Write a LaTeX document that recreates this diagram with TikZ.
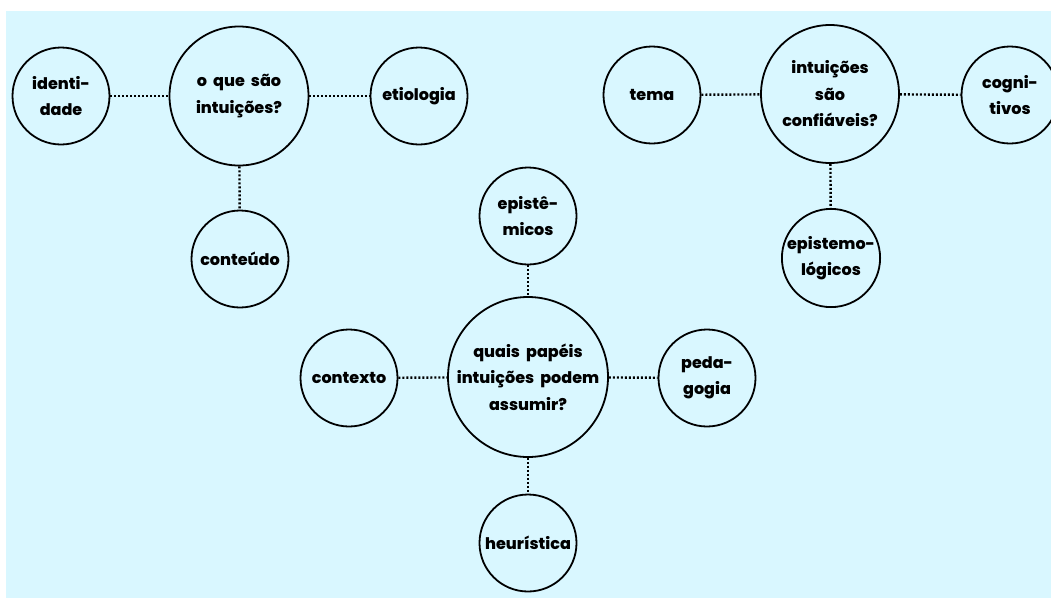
\documentclass[tikz,border=0pt]{standalone}
\usepackage{fontspec}
\setmainfont{Poppins}[BoldFont={* ExtraBold}, WordSpace=2]
\usepackage{xcolor}
\definecolor{fundo}{RGB}{217,247,255}

\tikzset{
  bolha/.style={circle, draw=black, line width=1.8pt, inner sep=0pt, align=center,
    font=\fontsize{16}{26.5}\selectfont\bfseries},
  ligacao/.style={line width=2.4pt, dash pattern=on 2pt off 2pt}
}

\begin{document}
\begin{tikzpicture}[x=1pt, y=-1pt]
            \useasboundingbox (0,0) rectangle (1051,598);
            \fill[fundo] (6,11) rectangle (1051,598);

            % Nos
            \foreach \n/\x/\y/\d/\t in {
                    q1/239/96/139/{o que são\\intuições?},
                    q2/830/94/138/{intuições\\são\\confiáveis?},
                    q3/528/377/160/{quais papéis\\intuições podem\\assumir?},
                    id/61/96/97/{identi-\\dade},
                    et/419/96/97/{etiologia},
                    co/240/259/97/{conteúdo},
                    te/652/95/97/{tema},
                    cg/1010/95/97/{cogni-\\tivos},
                    el/831/258/97/{epistemo-\\lógicos},
                    ep/528/216/97/{epistê-\\micos},
                    cx/349/378/97/{contexto},
                    pe/707/378/97/{peda-\\gogia},
                    he/528/543/97/{heurística}} {
                    \node[bolha, minimum size=\d pt] (\n) at (\x,\y) {\t};
                }

            % Ligacoes
            \foreach \a/\b in {id/q1, q1/et, q1/co, te/q2, q2/cg, q2/el, ep/q3, cx/q3, q3/pe, q3/he} {
                    \draw[ligacao] (\a) -- (\b);
                }
        \end{tikzpicture}
\end{document}
